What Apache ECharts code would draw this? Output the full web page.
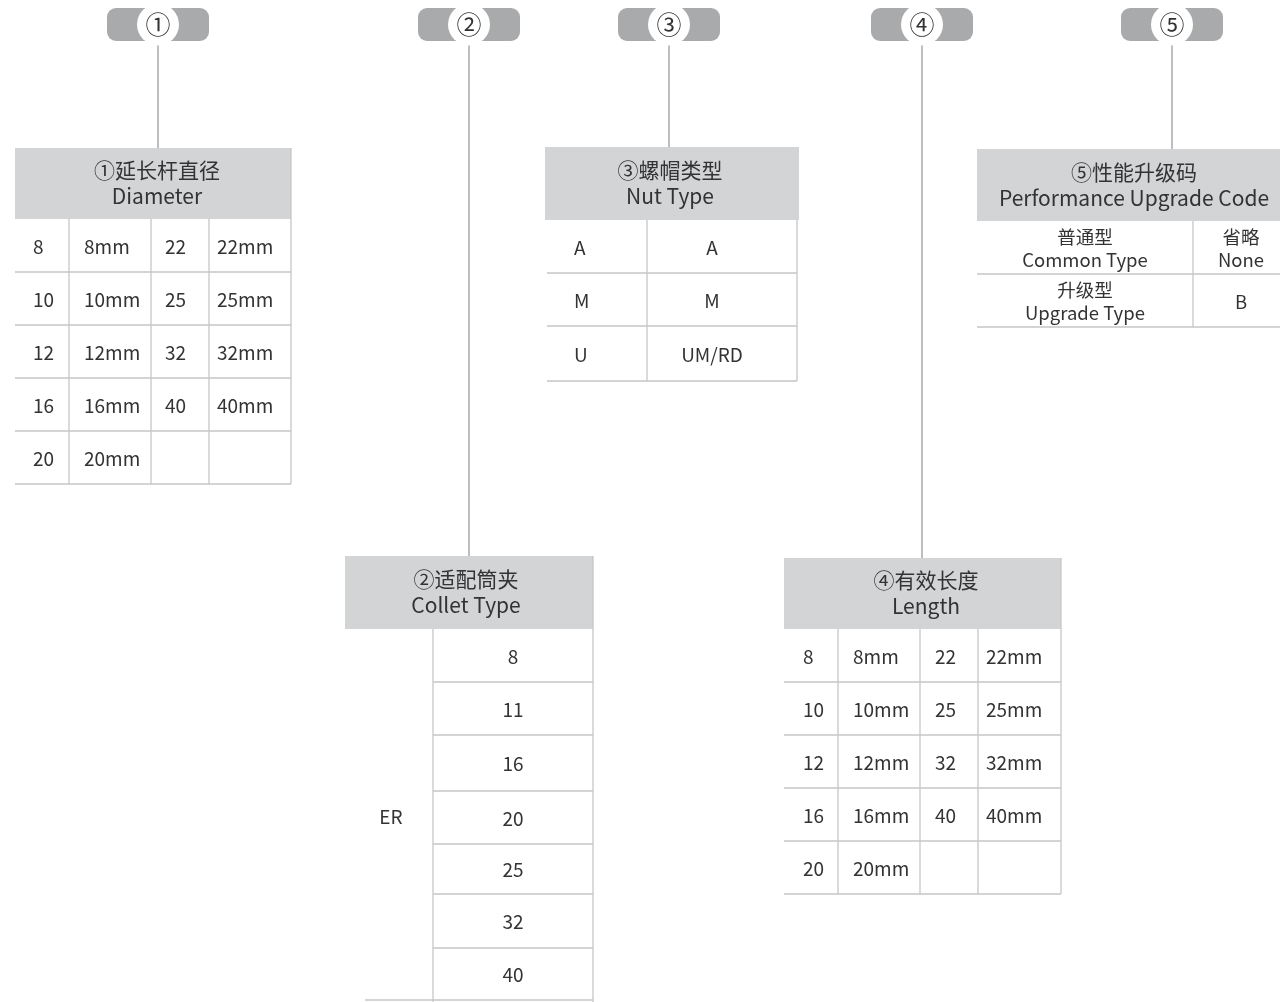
<!DOCTYPE html>
<html><head><meta charset="utf-8">
<script src="https://cdn.jsdelivr.net/npm/echarts@6/dist/echarts.min.js"></script>
<style>html,body{margin:0;padding:0;background:#fff}#c{width:1280px;height:1002px}</style>
</head><body><div id="c"></div>
<script>
// ---------- content ----------
const stepMarks = ['①', '②', '③', '④', '⑤'];
const headerCN = ['①延长杆直径', '②适配筒夹', '③螺帽类型', '④有效长度', '⑤性能升级码'];
const headerEN = ['Diameter', 'Collet Type', 'Nut Type', 'Length', 'Performance Upgrade Code'];
const diameterCodes = ['8', '10', '12', '16', '20', '22', '25', '32', '40'];
const diameterLabels = ['8mm', '10mm', '12mm', '16mm', '20mm', '22mm', '25mm', '32mm', '40mm'];
const colletSeries = 'ER';
const colletSizes = ['8', '11', '16', '20', '25', '32', '40'];
const nutCodes = ['A', 'M', 'U'];
const nutLabels = ['A', 'M', 'UM/RD'];
const lengthCodes = ['8', '10', '12', '16', '20', '22', '25', '32', '40'];
const lengthLabels = ['8mm', '10mm', '12mm', '16mm', '20mm', '22mm', '25mm', '32mm', '40mm'];
const upgradeTypes = ['普通型\nCommon Type', '升级型\nUpgrade Type'];
const upgradeCodes = ['省略\nNone', 'B'];

// ---------- layout (page units) ----------
const FONT = '"Noto Sans CJK SC","Noto Sans",sans-serif';
const C = { badge: '#a9aaac', header: '#d3d4d6', grid: '#c6c6c8', conn: '#a3a3a5', text: '#333333' };
const HS = 21, CS = 19, US = 18.5; // header / cell / upgrade text sizes
const badgeCx = [158, 469, 669, 922, 1172];
const tables = [
  { hx0: 15, hx1: 291, hy0: 148, hy1: 219, tcx: 157 },   // diameter
  { hx0: 345, hx1: 593, hy0: 556, hy1: 629, tcx: 466 },  // collet
  { hx0: 545, hx1: 799, hy0: 147, hy1: 220, tcx: 670 },  // nut
  { hx0: 784, hx1: 1061, hy0: 558, hy1: 629, tcx: 926 }, // length
  { hx0: 977, hx1: 1280, hy0: 149, hy1: 221, tcx: 1134 } // upgrade
];

const els = [];
const rect = (x0, y0, x1, y1, fill, r) => els.push({ k: 'rect', x0, y0, x1, y1, fill, r: r || 0 });
const line = (x0, y0, x1, y1, stroke, w) => els.push({ k: 'line', x0, y0, x1, y1, stroke: stroke || C.grid, w: w || 1.3 });
const texts = [];
const text = (x, y, t, size, align) => texts.push({ k: 'text', x0: x, y0: y, t, size, align: align || 'center' });

// badges + connectors
const badgeEls = [];
stepMarks.forEach((m, i) => {
  const cx = badgeCx[i];
  line(cx, 41, cx, tables[i].hy0, C.conn, 1.4);
  badgeEls.push({ k: 'rect', x0: cx - 51, y0: 8, x1: cx + 51, y1: 41, fill: C.badge, r: 9 });
  badgeEls.push({ k: 'circle', x0: cx, y0: 24.5, rad: 21, fill: '#fff' });
  badgeEls.push({ k: 'text', x0: cx, y0: 24.5, t: m, size: 25, align: 'center' });
});

// headers
tables.forEach((tb, i) => {
  rect(tb.hx0, tb.hy0, tb.hx1, tb.hy1, C.header);
  text(tb.tcx, (tb.hy0 + tb.hy1) / 2, headerCN[i] + '\n' + headerEN[i], HS, 'center');
});

// 4-column code tables (diameter & length)
function codeTable(tb, cols, rows, tx, codes, labels) {
  const half = Math.ceil(codes.length / 2);
  for (let r = 0; r < rows.length - 1; r++) {
    line(cols[0], rows[r + 1], cols[4], rows[r + 1]);
    const cy = (rows[r] + rows[r + 1]) / 2 + 1;
    if (r < half) { text(tx[0], cy, codes[r], CS, 'left'); text(tx[1], cy, labels[r], CS, 'left'); }
    const j = r + half;
    if (j < codes.length) { text(tx[2], cy, codes[j], CS, 'left'); text(tx[3], cy, labels[j], CS, 'left'); }
  }
  for (let c = 1; c < 4; c++) line(cols[c], rows[0], cols[c], rows[rows.length - 1]);
  line(cols[4], tb.hy0, cols[4], rows[rows.length - 1]);
}
codeTable(tables[0], [15, 69, 151, 209, 291], [219, 272, 325, 378, 431, 484], [33, 84, 165, 217], diameterCodes, diameterLabels);
codeTable(tables[3], [784, 838, 920, 978, 1061], [629, 682, 735, 788, 841, 894], [803, 853, 935, 986], lengthCodes, lengthLabels);

// collet table
(function () {
  const rows = [629, 682, 735, 791, 844, 894, 948, 1000];
  for (let r = 0; r < colletSizes.length; r++) {
    const cy = (rows[r] + rows[r + 1]) / 2 + 1;
    text(513, cy, colletSizes[r], CS, 'center');
    if (r < colletSizes.length - 1) line(433, rows[r + 1], 593, rows[r + 1]);
  }
  line(365, 1000, 593, 1000);
  line(433, 629, 433, 1002);
  line(593, 556, 593, 1002);
  text(391, (rows[0] + rows[7]) / 2 + 2, colletSeries, CS, 'center');
})();

// nut table
(function () {
  const rows = [220, 273, 326, 381];
  for (let r = 0; r < nutCodes.length; r++) {
    const cy = (rows[r] + rows[r + 1]) / 2 + 1.5;
    text(574, cy, nutCodes[r], CS, 'left');
    text(712, cy, nutLabels[r], CS, 'center');
    line(547, rows[r + 1], 797, rows[r + 1]);
  }
  line(647, 220, 647, 381);
  line(797, 220, 797, 381);
})();

// upgrade table
(function () {
  const rows = [221, 274, 327];
  for (let r = 0; r < upgradeTypes.length; r++) {
    const cy = (rows[r] + rows[r + 1]) / 2 + 1;
    text(1085, cy, upgradeTypes[r], US, 'center');
    text(1241, cy, upgradeCodes[r], US, 'center');
    line(977, rows[r + 1], 1280, rows[r + 1]);
  }
  line(1193, 221, 1193, 327);
})();

const all = els.concat(badgeEls, texts);

const chart = echarts.init(document.getElementById('c'), null, { renderer: 'canvas' });
chart.setOption({
  backgroundColor: '#fff',
  animation: false,
  grid: { left: 0, right: 0, top: 0, bottom: 0 },
  xAxis: { type: 'value', min: 0, max: 1280, show: false },
  yAxis: { type: 'value', min: 0, max: 1002, inverse: true, show: false },
  series: [{
    type: 'custom',
    coordinateSystem: 'cartesian2d',
    clip: false,
    encode: { x: 0, y: 1 },
    data: all.map((e, i) => [e.x0, e.y0, i]),
    renderItem: function (params, api) {
      const e = all[api.value(2)];
      const p0 = api.coord([e.x0, e.y0]);
      if (e.k === 'rect') {
        const p1 = api.coord([e.x1, e.y1]);
        return { type: 'rect', shape: { x: p0[0], y: p0[1], width: p1[0] - p0[0], height: p1[1] - p0[1], r: e.r }, style: { fill: e.fill } };
      }
      if (e.k === 'line') {
        const p1 = api.coord([e.x1, e.y1]);
        return { type: 'line', shape: { x1: p0[0], y1: p0[1], x2: p1[0], y2: p1[1] }, style: { stroke: e.stroke, lineWidth: e.w } };
      }
      if (e.k === 'circle') {
        return { type: 'circle', shape: { cx: p0[0], cy: p0[1], r: e.rad }, style: { fill: e.fill } };
      }
      const lh = e.size > 20 ? 26 : Math.round(e.size * 1.25);
      return {
        type: 'text',
        style: {
          text: e.t, x: p0[0], y: p0[1], fill: C.text,
          fontSize: e.size, fontFamily: FONT, lineHeight: lh,
          textAlign: e.align, textVerticalAlign: 'middle'
        }
      };
    }
  }]
});
</script></body></html>
